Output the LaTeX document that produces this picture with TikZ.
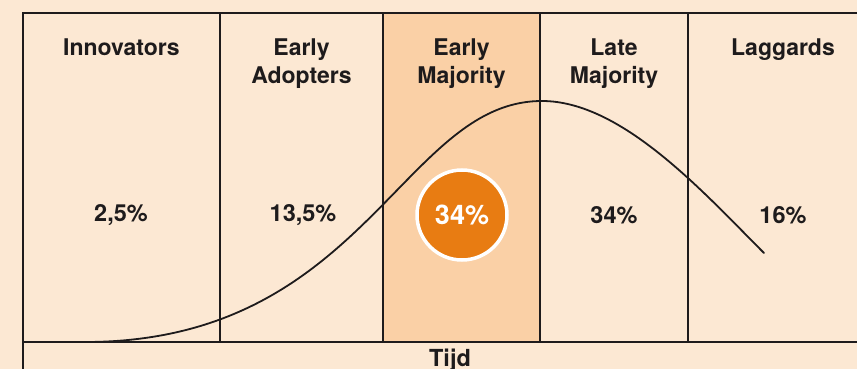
\documentclass[tikz,border=0pt]{standalone}
\usepackage{fontspec}
\setmainfont{TeX Gyre Heros}
\usepackage{xcolor}
\definecolor{Back}{RGB}{252,232,211}
\definecolor{Band}{RGB}{250,208,166}
\definecolor{Orange}{RGB}{232,124,18}
\definecolor{Ink}{RGB}{30,27,28}
\tikzstyle{Rule}=[draw=Ink,line width=2pt]
\tikzstyle{Curve}=[draw=Ink,line width=1.8pt,cap=round]
\tikzstyle{Head}=[anchor=north,align=center,inner sep=0pt,text=Ink,
font=\fontsize{23}{28}\selectfont\bfseries]
\tikzstyle{Pct}=[inner sep=0pt,text=Ink,font=\fontsize{23.5}{26}\selectfont\bfseries]
\tikzstyle{Ball}=[circle,fill=Orange,draw=white,line width=3.5pt,
minimum size=90pt,inner sep=0pt,text=white,
font=\fontsize{27}{30}\selectfont\bfseries]

\begin{document}
\begin{tikzpicture}[x=1pt,y=-1pt]
        \clip(0,0)rectangle(857,369);
        \fill[Back](0,0)rectangle(857,369);
        \fill[Band](383,13)rectangle(540,342);
        % bell curve
        \draw[Curve](85,342)..controls(365,342)and(402,101)..(542,101)
            ..controls(622,101)and(704,193)..(764,253);
        % grid
        \draw[Rule](880,13)--(23,13)--(23,380);
        \draw[Rule](23,342)--(880,342);
        \foreach \x in {220,383,540,688}
            \draw[Rule](\x,13)--(\x,342);
        % headers
        \node[Head](inno)at(121.5,38.5){Innovators};
        \node[Head](early)at(301.5,38.5){Early\\Adopters};
        \node[Head](emaj)at(461.5,38.5){Early\\Majority};
        \node[Head](lmaj)at(614,38.5){Late\\Majority};
        \node[Head](lagg)at(783,38.5){Laggards};
        % shares
        \node[Pct](p1)at(121,215){2,5\%};
        \node[Pct](p2)at(303,215){13,5\%};
        \node[Ball](p3)at(462,215){34\%};
        \node[Pct](p4)at(614,215){34\%};
        \node[Pct](p5)at(783,215){16\%};
        \node[Pct](tijd)at(450,360){Tijd};
    \end{tikzpicture}
\end{document}
